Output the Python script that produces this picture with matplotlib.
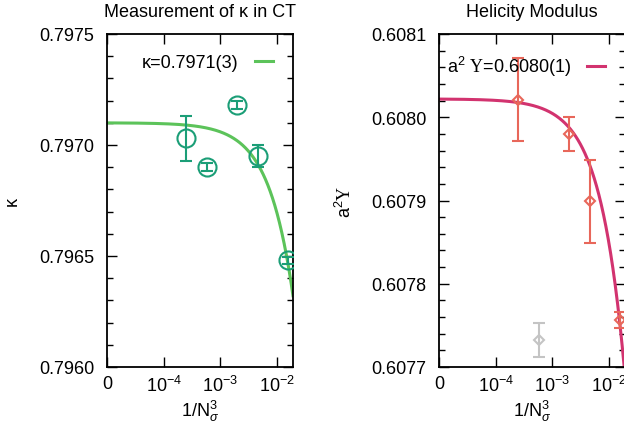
import numpy as np
import matplotlib
matplotlib.use("Agg")
import matplotlib.pyplot as plt
from matplotlib.ticker import MultipleLocator, FormatStrFormatter, NullLocator, FixedLocator, FixedFormatter

plt.rcParams['font.family'] = ['Liberation Sans', 'DejaVu Sans']
plt.rcParams['font.size'] = 13
plt.rcParams['mathtext.fontset'] = 'custom'
plt.rcParams['mathtext.rm'] = 'Liberation Sans'
plt.rcParams['mathtext.it'] = 'Liberation Sans:italic'
plt.rcParams['mathtext.sf'] = 'Liberation Serif'

# lattice sizes, x = 1/N^3
N_kappa = np.array([16, 12, 8, 6, 4])
kappa = [0.79703, 0.79690, 0.79718, 0.79695, 0.79648]
kappa_err = [0.00010, 0.000017, 0.000017, 0.00005, 0.000015]

N_ups = np.array([16, 8, 6, 4])
ups = [0.608021, 0.607980, 0.607899, 0.607756]
ups_err = [0.000050, 0.000020, 0.000050, 0.0000096]
N_ups_out = np.array([12])
ups_out = [0.607732]
ups_out_err = [0.0000204]

# fit parameters f(x) = a + b*x
kappa_fit = (0.79710, -0.041)
ups_fit = (0.608022, -0.0175)

xticks = [1e-5, 1e-4, 1e-3, 1e-2]
xticklabels = ['0', '$10^{-4}$', '$10^{-3}$', '$10^{-2}$']
xmin, xmax = 1e-5, 1.9e-2

fig = plt.figure(figsize=(6.24, 4.35), dpi=100)
ax1 = fig.add_axes([107/624, 67/435, 186/624, 333/435])
ax2 = fig.add_axes([439/624, 67/435, 186/624, 333/435])

xf = np.logspace(np.log10(xmin), np.log10(xmax), 400)

# left panel
ax1.plot(xf, kappa_fit[0] + kappa_fit[1]*xf, color='#5cc35a', lw=2.2,
         label='κ=0.7971(3)', zorder=2)
ax1.errorbar(1.0/N_kappa**3, kappa, yerr=kappa_err, fmt='o', mfc='none',
             mec='#1b9e77', color='#1b9e77', ms=13, mew=1.5, elinewidth=1.5,
             capsize=4, capthick=1.5, zorder=3)
ax1.set_ylim(0.7960, 0.7975)
ax1.yaxis.set_major_locator(MultipleLocator(0.0005))
ax1.yaxis.set_minor_locator(MultipleLocator(0.0001))
ax1.yaxis.set_major_formatter(FormatStrFormatter('%.4f'))
ax1.set_title('Measurement of κ in CT', fontsize=13, pad=13)
ax1.set_ylabel('κ')
ax1.yaxis.set_label_coords(-0.465, 0.5)

# right panel
ax2.plot(xf, ups_fit[0] + ups_fit[1]*xf, color='#d2336f', lw=2.2,
         label=r'a$^2$ $\mathsf{\Upsilon}$=0.6080(1)', zorder=2)
ax2.errorbar(1.0/N_ups**3, ups, yerr=ups_err, fmt='D', mfc='none',
             mec='#e8675a', color='#e8675a', ms=5, mew=1.5, elinewidth=1.5,
             capsize=4, capthick=1.5, zorder=3)
ax2.errorbar(1.0/N_ups_out**3, ups_out, yerr=ups_out_err, fmt='D', mfc='none',
             mec='#c4c4c4', color='#c4c4c4', ms=5, mew=1.5, elinewidth=1.5,
             capsize=4, capthick=1.5, zorder=3)
ax2.set_ylim(0.6077, 0.6081)
ax2.yaxis.set_major_locator(MultipleLocator(0.0001))
ax2.yaxis.set_minor_locator(MultipleLocator(0.00002))
ax2.yaxis.set_major_formatter(FormatStrFormatter('%.4f'))
ax2.set_title('Helicity Modulus', fontsize=13, pad=13)
ax2.set_ylabel(r'a$^2$$\mathsf{\Upsilon}$')
ax2.yaxis.set_label_coords(-0.45, 0.5)

for ax in (ax1, ax2):
    ax.set_xscale('log')
    ax.set_xlim(xmin, xmax)
    ax.xaxis.set_major_locator(FixedLocator(xticks))
    ax.xaxis.set_major_formatter(FixedFormatter(xticklabels))
    ax.xaxis.set_minor_locator(NullLocator())
    ax.set_xlabel(r'1/N$_\sigma^3$', labelpad=2)
    ax.tick_params(which='both', direction='in', top=True, right=True, width=1.0)
    ax.tick_params(which='major', length=7)
    ax.tick_params(axis='y', which='major', pad=9)
    ax.tick_params(axis='x', which='major', pad=6)
    ax.tick_params(which='minor', length=4)
    for s in ax.spines.values():
        s.set_linewidth(1.3)
    ax.legend(loc='upper right', markerfirst=False, frameon=False,
              handlelength=1.0, handletextpad=0.9, borderaxespad=0.7, fontsize=13)

fig.savefig('out.png', dpi=100)
